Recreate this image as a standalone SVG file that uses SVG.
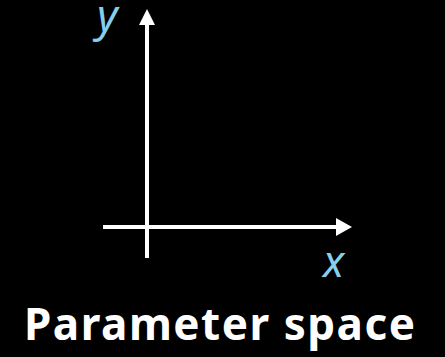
<svg xmlns="http://www.w3.org/2000/svg" width="445" height="357" viewBox="0 0 445 357">
<style>
.ax{stroke:#fff;stroke-width:4;fill:none}
.lbl{font-family:"Noto Sans","Open Sans",sans-serif;font-style:italic;fill:#87cdee;font-size:44px}
.title{font-family:"Noto Sans","Open Sans",sans-serif;font-weight:bold;fill:#fff;font-size:44px}
</style>
<rect width="445" height="357" fill="#000"/>
<g id="connectors">
<line class="ax" x1="147" y1="258" x2="147" y2="22"/>
<polygon points="147,9 155,25 139,25" fill="#fff"/>
<line class="ax" x1="103" y1="227" x2="339" y2="227"/>
<polygon points="352,227 336,218 336,236" fill="#fff"/>
</g>
<g id="y-label"><text class="lbl" x="97" y="31">y</text></g>
<g id="x-label"><text class="lbl" x="323" y="277">x</text></g>
<g id="title"><text class="title" x="24" y="340" textLength="391" lengthAdjust="spacing">Parameter space</text></g>
</svg>
